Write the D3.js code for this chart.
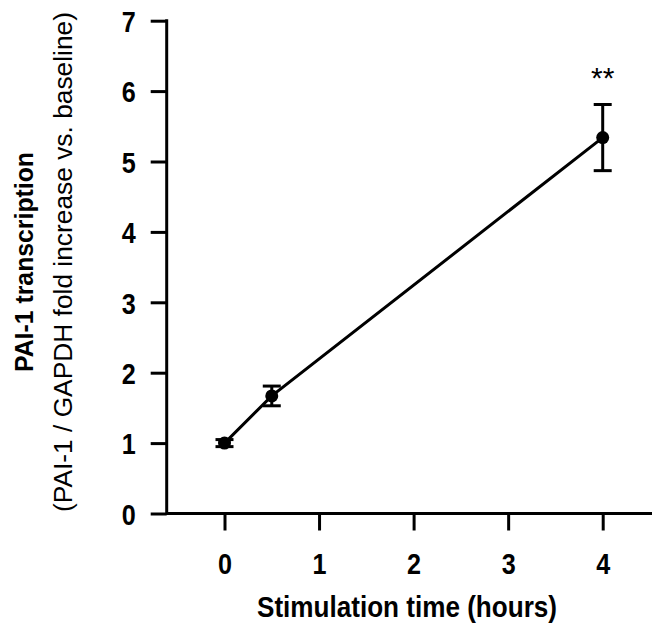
<!DOCTYPE html>
<html>
  <head>
    <meta charset="utf-8">
    <title>PAI-1 transcription</title>
    <style>
      body { margin: 0; background: #fff; }
      text { font-family: "Liberation Sans", Arial, Helvetica, sans-serif; fill: #000; }
    </style>
  </head>
  <body>
    <svg width="652" height="624"></svg>
    <script src="https://d3js.org/d3.v7.min.js"></script>
    <script>

    // data
    var hours = [0, 0.5, 4];
    var means = [1.0, 1.67, 5.34];
    var errs = [0.05, 0.14, 0.47];
    var stars = ["", "", "**"];
    var xTicks = [0, 1, 2, 3, 4];
    var yTicks = [0, 1, 2, 3, 4, 5, 6, 7];

    var svg = d3.select("svg");

    var x = d3.scaleLinear()
        .domain([0, 4])
        .range([224.5, 602.7]);

    var y = d3.scaleLinear()
        .domain([0, 7])
        .range([513.5, 20.7]);

    var axisX = 166.7;   // where the y axis sits

    // y axis
    var gy = svg.append("g")
        .attr("transform", "translate(" + axisX + ",0)")
        .call(d3.axisLeft(y).tickValues(yTicks).tickFormat(d3.format("d"))
          .tickSize(16).tickPadding(15).tickSizeOuter(0));
    gy.select(".domain").remove();
    gy.selectAll(".tick line").attr("stroke", "#000").attr("stroke-width", 3);
    gy.selectAll(".tick text")
        .attr("font-size", 30)
        .attr("font-weight", "bold")
        .attr("textLength", 14)
        .attr("lengthAdjust", "spacingAndGlyphs")
        .attr("dy", "0.36em");

    gy.append("line")
        .attr("x1", 0).attr("x2", 0)
        .attr("y1", y(7) - 1.5).attr("y2", y(0) + 1.5)
        .attr("stroke", "#000").attr("stroke-width", 3);

    // x axis
    var gx = svg.append("g")
        .attr("transform", "translate(0," + y(0) + ")")
        .call(d3.axisBottom(x).tickValues(xTicks).tickFormat(d3.format("d"))
          .tickSize(17).tickPadding(22).tickSizeOuter(0));
    gx.select(".domain").remove();
    gx.selectAll(".tick line").attr("stroke", "#000").attr("stroke-width", 3);
    gx.selectAll(".tick text")
        .attr("font-size", 30)
        .attr("font-weight", "bold")
        .attr("textLength", 14)
        .attr("lengthAdjust", "spacingAndGlyphs")
        .attr("dy", "0.71em");

    gx.append("line")
        .attr("x1", axisX).attr("x2", 652)
        .attr("stroke", "#000").attr("stroke-width", 3);

    // axis titles
    svg.append("text")
        .attr("x", 407).attr("y", 617)
        .attr("text-anchor", "middle")
        .attr("font-size", 29)
        .attr("font-weight", "bold")
        .attr("textLength", 300)
        .attr("lengthAdjust", "spacingAndGlyphs")
        .text("Stimulation time (hours)");

    svg.append("text")
        .attr("transform", "translate(33,262) rotate(-90)")
        .attr("text-anchor", "middle")
        .attr("font-size", 25)
        .attr("font-weight", "bold")
        .attr("textLength", 220)
        .attr("lengthAdjust", "spacingAndGlyphs")
        .text("PAI-1 transcription");

    svg.append("text")
        .attr("transform", "translate(72,262) rotate(-90)")
        .attr("text-anchor", "middle")
        .attr("font-size", 25)
        .attr("textLength", 500)
        .attr("lengthAdjust", "spacingAndGlyphs")
        .text("(PAI-1 / GAPDH fold increase vs. baseline)");

    var data = hours.map(function(h, i) {
      return {h: h, m: means[i], e: errs[i], s: stars[i]};
    });

    // connecting line
    var line = d3.line()
        .x(function(d) { return x(d.h); })
        .y(function(d) { return y(d.m); });

    svg.append("path")
        .attr("d", line(data))
        .attr("fill", "none")
        .attr("stroke", "#000")
        .attr("stroke-width", 3);

    // error bars
    var eb = svg.append("g").attr("stroke", "#000").attr("stroke-width", 3);
    data.forEach(function(d) {
      var cx = x(d.h), y1 = y(d.m + d.e), y2 = y(d.m - d.e);
      eb.append("line").attr("x1", cx).attr("x2", cx).attr("y1", y1).attr("y2", y2);
      eb.append("line").attr("x1", cx - 9).attr("x2", cx + 9).attr("y1", y1).attr("y2", y1);
      eb.append("line").attr("x1", cx - 9).attr("x2", cx + 9).attr("y1", y2).attr("y2", y2);
    });

    // points
    svg.selectAll("circle")
        .data(data)
      .enter().append("circle")
        .attr("cx", function(d) { return x(d.h); })
        .attr("cy", function(d) { return y(d.m); })
        .attr("r", 6.5)
        .attr("fill", "#000");

    // significance
    svg.selectAll(".sig")
        .data(data.filter(function(d) { return d.s; }))
      .enter().append("text")
        .attr("class", "sig")
        .attr("x", function(d) { return x(d.h); })
        .attr("y", function(d) { return y(d.m + d.e) - 16; })
        .attr("text-anchor", "middle")
        .attr("font-size", 30)
        .attr("fill", "#222")
        .text(function(d) { return d.s; });

    </script>
  </body>
</html>
